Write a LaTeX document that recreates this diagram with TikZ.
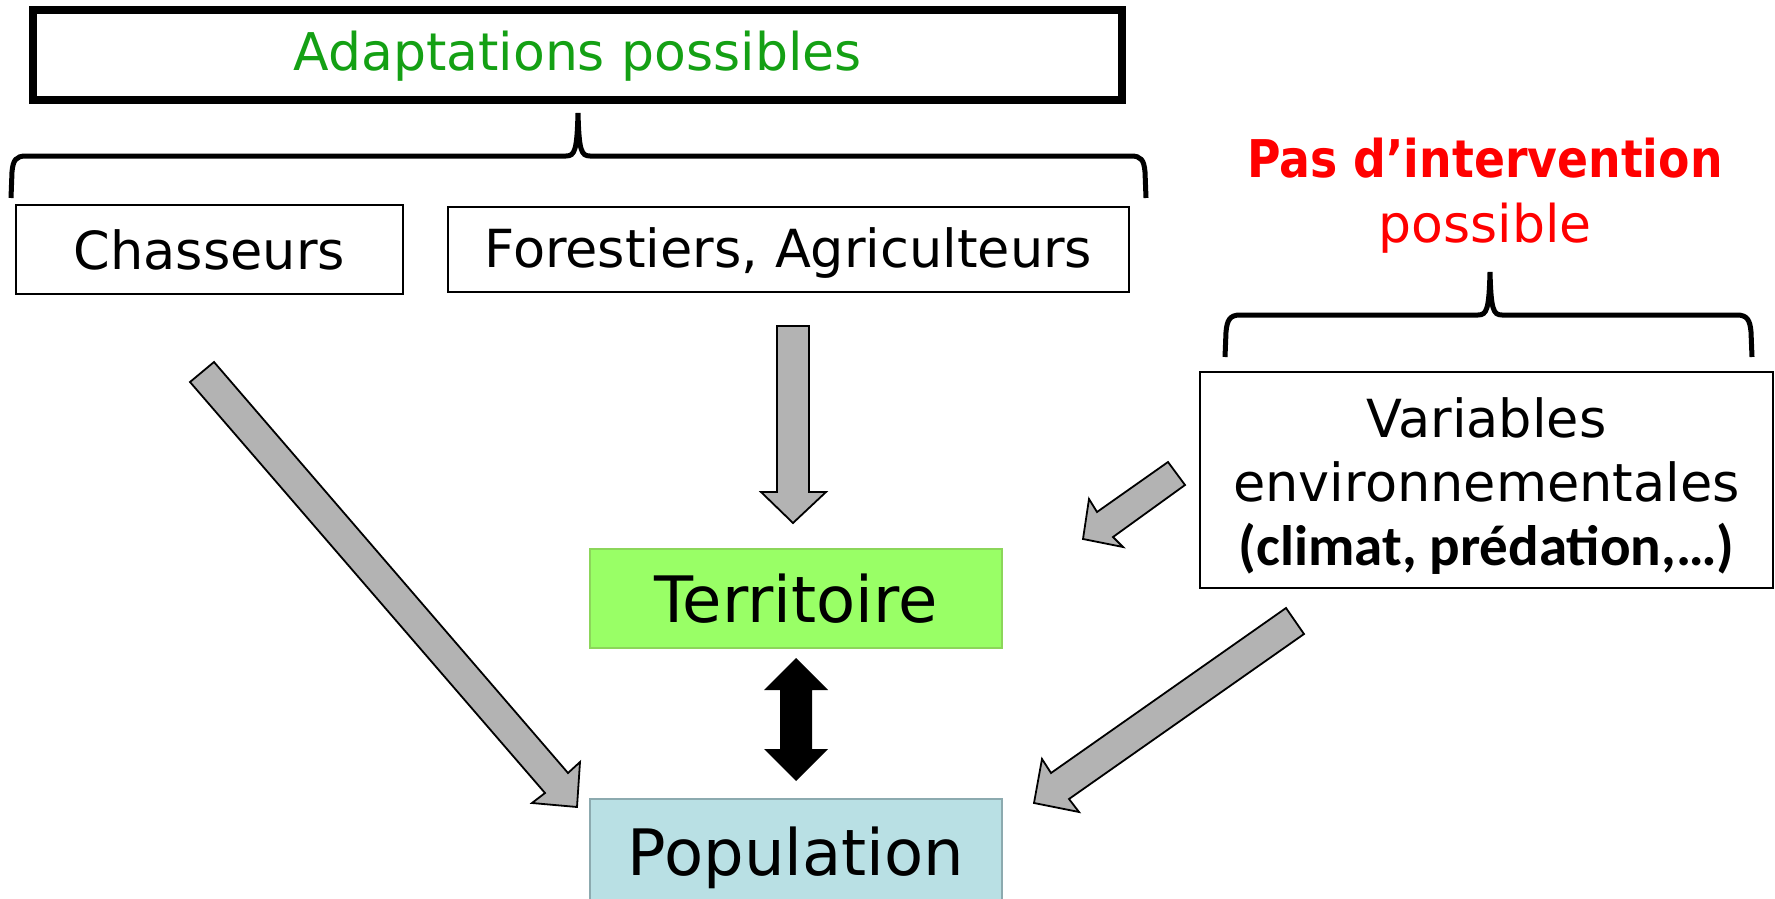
\documentclass[tikz,border=0pt]{standalone}
\usepackage{fontspec}
\setmainfont{DejaVu Sans}
\newfontfamily\calibfont{Carlito}
\newfontfamily\condfont[FakeStretch=0.88]{DejaVu Sans}
\usepackage{xcolor}
\usepackage{tikz}
\usetikzlibrary{positioning}

\definecolor{adaptgreen}{RGB}{20,160,20}
\definecolor{territfill}{RGB}{153,255,102}
\definecolor{territline}{RGB}{140,214,90}
\definecolor{popfill}{RGB}{185,224,228}
\definecolor{popline}{RGB}{140,170,175}
\definecolor{arrowgray}{RGB}{179,179,179}

\tikzset{
  actor/.style={rectangle, draw, line width=2pt, inner sep=0pt, font=\fontsize{52.5}{64}\selectfont},
  core/.style={rectangle, draw, line width=2pt, inner sep=0pt, minimum width=412pt, font=\fontsize{64}{70}\selectfont},
  bracket/.style={line width=5pt},
  grayarrow/.style={draw, fill=arrowgray, line width=1.8pt, line join=miter}
}

\begin{document}
\begin{tikzpicture}[x=1pt, y=-1pt]
\useasboundingbox (0,0) rectangle (1775,899);

\node (adapt) [rectangle, draw, line width=8pt, minimum width=1089pt, minimum height=90pt, text depth=8pt, text=adaptgreen, font=\fontsize{52}{60}\selectfont] at (577.5,55) {Adaptations possibles};
\node (chass) [actor, minimum width=387pt, minimum height=89pt] at (209.5,249.5) {Chasseurs};
\node (forest) [actor, minimum width=681pt, minimum height=85pt, text depth=4pt] at (788.5,249.5) {Forestiers, Agriculteurs};

\node (pas) [text=red, font=\condfont\bfseries\fontsize{52}{60}\selectfont] at (1485,158) {Pas d’intervention};
\node (possible) [text=red, font=\fontsize{52}{60}\selectfont] at (1485,228) {possible};
\node (envvar) [actor, line width=2.5pt, minimum width=573pt, minimum height=216pt] at (1486.5,480) {};
\node (envtext) [align=center, font=\fontsize{52.5}{64}\selectfont] at (1486.5,486) {Variables\\environnementales\\{\calibfont\bfseries\fontsize{57}{64}\selectfont (climat, prédation,…)}};

\node (territ) [core, fill=territfill, draw=territline, minimum height=99pt] at (796,598.5) {Territoire};
\node (popul) [core, fill=popfill, draw=popline, minimum height=113pt, text depth=8pt] at (796,855.5) {Population};

\draw[bracket] (11,198) -- (12,172) .. controls (13,160) and (16,156) .. (26,156) -- (566,156)
  .. controls (575,156) and (577,150) .. (578,113) .. controls (579,150) and (581,156) .. (590,156)
  -- (1131,156) .. controls (1141,156) and (1144,160) .. (1145,172) -- (1146,198);
\draw[bracket] (1225,357) -- (1226,332) .. controls (1227,320) and (1230,315) .. (1240,315) -- (1478,315)
  .. controls (1487,315) and (1489,309) .. (1490,272) .. controls (1491,309) and (1493,315) .. (1502,315)
  -- (1737,315) .. controls (1747,315) and (1750,320) .. (1751,332) -- (1752,357);

\draw[grayarrow] (777,326) -- (809,326) -- (809,492) -- (826,492) -- (793,523) -- (761,492) -- (777,492) -- cycle;
\draw[grayarrow] (214,362) -- (568,773) -- (580,762) -- (577,807) -- (532,803) -- (545,793) -- (190,382) -- cycle;
\draw[grayarrow] (1286,608) -- (1304,634) -- (1069,799) -- (1079,812) -- (1034,803) -- (1042,759) -- (1051,773) -- cycle;
\draw[grayarrow] (1168,462) -- (1185,485) -- (1113,537) -- (1123,547) -- (1083,539) -- (1089,499) -- (1097,512) -- cycle;

\fill (796,658) -- (828,690) -- (812,690) -- (812,749) -- (828,749) -- (796,781) -- (764,749) -- (780,749) -- (780,690) -- (764,690) -- cycle;
\end{tikzpicture}
\end{document}
